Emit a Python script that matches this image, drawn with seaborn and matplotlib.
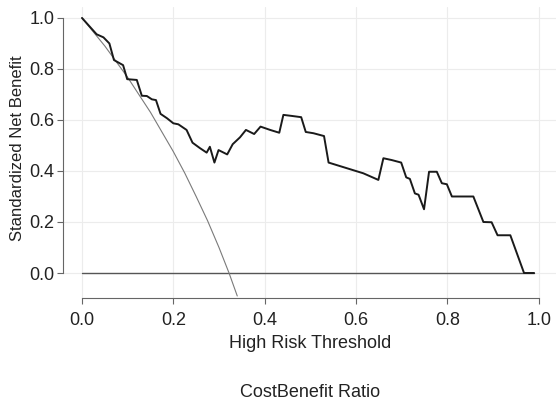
import matplotlib
matplotlib.use("Agg")
import matplotlib.pyplot as plt
import seaborn as sns

# --- decision curve values ---
thresh = [0.0, 0.032, 0.047, 0.060, 0.070, 0.090, 0.099, 0.12, 0.131, 0.142,
          0.153, 0.162, 0.172, 0.186, 0.20, 0.211, 0.229, 0.242, 0.258, 0.273,
          0.28, 0.29, 0.299, 0.318, 0.33, 0.346, 0.359, 0.377, 0.391, 0.412,
          0.432, 0.441, 0.459, 0.48, 0.490, 0.507, 0.53, 0.54, 0.616, 0.649,
          0.66, 0.678, 0.699, 0.71, 0.718, 0.729, 0.737, 0.749, 0.76, 0.777,
          0.788, 0.799, 0.81, 0.857, 0.879, 0.897, 0.91, 0.938, 0.968, 0.99]
snb = [1.0, 0.936, 0.924, 0.90, 0.835, 0.815, 0.76, 0.757, 0.695, 0.694,
       0.681, 0.678, 0.624, 0.607, 0.587, 0.583, 0.561, 0.511, 0.490, 0.472,
       0.495, 0.433, 0.482, 0.465, 0.505, 0.532, 0.561, 0.545, 0.574, 0.561,
       0.550, 0.620, 0.616, 0.611, 0.553, 0.548, 0.537, 0.433, 0.391, 0.365,
       0.45, 0.443, 0.433, 0.375, 0.369, 0.312, 0.307, 0.25, 0.397, 0.397,
       0.352, 0.348, 0.30, 0.30, 0.20, 0.199, 0.148, 0.148, 0.0, 0.0]

# treat-all curve
all_thresh = [0.0, 0.05, 0.1, 0.15, 0.2, 0.225, 0.25, 0.275, 0.3, 0.322, 0.34]
all_snb = [1.0, 0.89, 0.767, 0.63, 0.476, 0.392, 0.30, 0.205, 0.10, 0.0, -0.09]

# treat-none line
none_thresh = [0.0, 0.99]
none_snb = [0.0, 0.0]

xticks = [0.0, 0.2, 0.4, 0.6, 0.8, 1.0]
yticks = [0.0, 0.2, 0.4, 0.6, 0.8, 1.0]

sns.set_style("whitegrid", {"grid.color": "#ececec"})
plt.rcParams["font.family"] = ["Liberation Sans", "DejaVu Sans"]

fig = plt.figure(figsize=(5.56, 4.03), dpi=100)
ax = fig.add_axes([63 / 556, 1 - 298 / 403, 1 - 63 / 556, 291 / 403])

sns.lineplot(x=none_thresh, y=none_snb, ax=ax, color="#555555", linewidth=1.0,
             estimator=None, sort=False)
sns.lineplot(x=all_thresh, y=all_snb, ax=ax, color="#7a7a7a", linewidth=0.8,
             estimator=None, sort=False)
sns.lineplot(x=thresh, y=snb, ax=ax, color="#1a1a1a", linewidth=1.4,
             estimator=None, sort=False)

ax.set_xlim(-0.0416, 1.038)
ax.set_ylim(-0.098, 1.043)
ax.set_xticks(xticks)
ax.set_yticks(yticks)
ax.set_xticklabels([f"{v:.1f}" for v in xticks])
ax.set_yticklabels([f"{v:.1f}" for v in yticks])
ax.grid(True, color="#ececec", linewidth=0.8)

for side in ["top", "right"]:
    ax.spines[side].set_visible(False)
for side in ["left", "bottom"]:
    ax.spines[side].set_color("#666666")
    ax.spines[side].set_linewidth(0.8)
    ax.spines[side].set_bounds(0, 1)

ax.tick_params(axis="both", which="both", length=4.3, width=0.8, color="#666666",
               labelsize=13, labelcolor="#222222", left=True, bottom=True)
ax.tick_params(axis="x", pad=5.5)
ax.tick_params(axis="y", pad=2)

ax.set_xlabel("High Risk Threshold", fontsize=13, color="#222222")
ax.set_ylabel("Standardized Net Benefit", fontsize=12, color="#222222")
ax.xaxis.set_label_coords((310.5 - 63) / 493, (298 - 335) / 291)
ax.yaxis.set_label_coords((25 - 63) / 493, (298 - 148) / 291)

fig.text(310.5 / 556, 1 - 397 / 403, "CostBenefit Ratio", fontsize=13,
         color="#222222", ha="center", va="baseline")

fig.savefig("out.png", dpi=100)
